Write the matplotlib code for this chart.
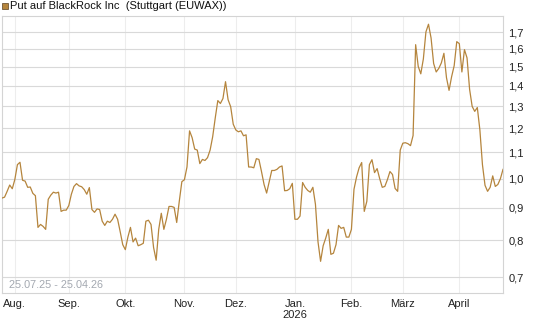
import numpy as np
import pandas as pd
import matplotlib
matplotlib.use("Agg")
import matplotlib.pyplot as plt
from matplotlib.patches import Rectangle
from matplotlib.ticker import FixedLocator, FixedFormatter, NullLocator

plt.rcParams['font.family'] = ['Liberation Sans', 'DejaVu Sans']

# Put auf BlackRock Inc, one close per trading day (25.07.25 - 24.04.26)
start_date = "2025-07-25"
end_date = "2026-04-24"
prices = [
    0.932, 0.935, 0.955, 0.977, 0.964, 0.997, 1.052, 1.061, 0.994, 0.991,
    0.969, 0.970, 0.948, 0.940, 0.838, 0.847, 0.841, 0.832, 0.928, 0.942,
    0.952, 0.949, 0.952, 0.888, 0.892, 0.892, 0.907, 0.945, 0.972, 0.982,
    0.974, 0.971, 0.961, 0.945, 0.968, 0.894, 0.885, 0.896, 0.894, 0.857,
    0.844, 0.857, 0.853, 0.863, 0.879, 0.863, 0.825, 0.787, 0.773, 0.809,
    0.838, 0.795, 0.806, 0.784, 0.787, 0.791, 0.857, 0.860, 0.847, 0.779,
    0.744, 0.832, 0.882, 0.832, 0.863, 0.904, 0.904, 0.901, 0.853, 0.921,
    0.989, 0.996, 1.043, 1.189, 1.160, 1.113, 1.109, 1.056, 1.072, 1.068,
    1.079, 1.109, 1.164, 1.246, 1.327, 1.313, 1.337, 1.421, 1.331, 1.298,
    1.218, 1.193, 1.185, 1.189, 1.168, 1.172, 1.043, 1.043, 1.040, 1.075,
    1.072, 1.026, 0.979, 0.949, 0.989, 1.030, 1.030, 1.034, 1.043, 1.047,
    0.957, 0.958, 0.964, 0.983, 0.863, 0.863, 0.873, 0.986, 0.969, 0.958,
    0.952, 0.969, 0.911, 0.795, 0.741, 0.784, 0.806, 0.832, 0.760, 0.763,
    0.787, 0.844, 0.835, 0.838, 0.809, 0.809, 0.832, 0.962, 1.006, 1.040,
    1.060, 0.888, 0.921, 1.052, 1.071, 1.022, 1.037, 1.000, 0.969, 0.972,
    0.996, 1.026, 1.015, 0.965, 0.955, 1.109, 1.137, 1.139, 1.135, 1.127,
    1.169, 1.625, 1.502, 1.462, 1.543, 1.702, 1.750, 1.665, 1.518, 1.472,
    1.491, 1.521, 1.575, 1.442, 1.377, 1.447, 1.506, 1.643, 1.631, 1.472,
    1.596, 1.549, 1.382, 1.299, 1.276, 1.294, 1.193, 1.052, 0.976, 0.955,
    0.969, 1.010, 0.972, 0.979, 1.000, 1.034,
]

y_ticks = [0.7, 0.8, 0.9, 1.0, 1.1, 1.2, 1.3, 1.4, 1.5, 1.6, 1.7]
month_starts = ["2025-08-01", "2025-09-01", "2025-10-01", "2025-11-01", "2025-12-01",
                "2026-01-01", "2026-02-01", "2026-03-01", "2026-04-01"]
month_labels = ["Aug.", "Sep.", "Okt.", "Nov.", "Dez.", "Jan.\n2026", "Feb.", "März", "April"]

title = "Put auf BlackRock Inc  (Stuttgart (EUWAX))"
range_text = "25.07.25 - 25.04.26"

line_color = "#b5853d"
grid_color = "#d9d9d9"
vgrid_color = "#ededed"

dates = pd.bdate_range(start_date, end_date)
x = np.arange(len(prices))
tick_pos = [int(dates.searchsorted(pd.Timestamp(m))) for m in month_starts]

fig = plt.figure(figsize=(5.45, 3.27), dpi=100)
ax = fig.add_axes([2 / 545, 1 - 293 / 327, 501 / 545, 277 / 327])

ax.plot(x, prices, color=line_color, lw=0.9, zorder=3)

ax.set_yscale("log")
ax.set_ylim(0.6606, 1.803)
ax.set_xlim(0, len(prices) - 1)

ax.yaxis.set_major_locator(FixedLocator(y_ticks))
ax.yaxis.set_major_formatter(FixedFormatter([f"{v:.1f}".replace(".", ",") for v in y_ticks]))
ax.yaxis.set_minor_locator(NullLocator())
ax.yaxis.tick_right()
ax.tick_params(axis="y", length=0, pad=4, labelsize=8, labelcolor="#222222")

ax.set_xticks(tick_pos)
ax.set_xticklabels(month_labels, linespacing=1.2)
ax.tick_params(axis="x", length=0, pad=4, labelsize=8, labelcolor="#222222")

for v in y_ticks:
    ax.axhline(v, color=grid_color, lw=0.8, zorder=1)
for p in tick_pos:
    ax.axvline(p, color=vgrid_color, lw=0.8, zorder=0)

for side in ["left", "right", "top", "bottom"]:
    ax.spines[side].set_color("#d4d4d4")
    ax.spines[side].set_linewidth(0.8)

ax.text(7 / 501, 2.5 / 277, range_text, transform=ax.transAxes, fontsize=7.8,
        color="#a3a8b0", ha="left", va="bottom")

# legend square + title
fig.add_artist(Rectangle((1.5 / 545, 1 - 8.5 / 327), 6 / 545, 6 / 327,
                         transform=fig.transFigure, facecolor=line_color,
                         edgecolor="#5a4020", lw=0.5))
fig.text(10 / 545, 1 - 6 / 327, title, fontsize=8, color="#111111",
         ha="left", va="center")

fig.savefig("out.png", dpi=100)
